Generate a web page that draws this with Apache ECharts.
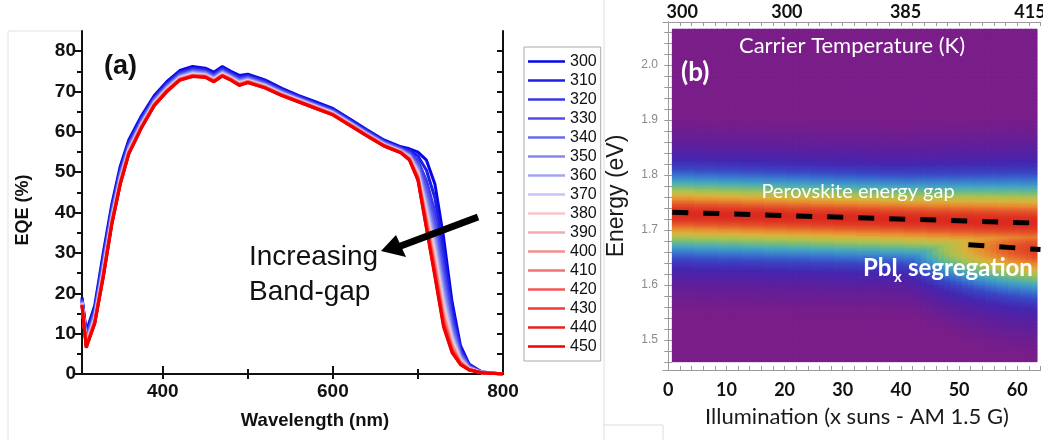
<!DOCTYPE html>
<html>
<head>
<meta charset="utf-8">
<script src="https://cdn.jsdelivr.net/npm/echarts@6/dist/echarts.min.js"></script>
<style>
  html, body { margin: 0; padding: 0; background: #ffffff; }
  #chart { width: 1043px; height: 440px; }
</style>
</head>
<body>
<div id="chart"></div>
<script>
// ---------- (a) EQE spectra at different carrier temperatures ----------
const wavelengths = [305,310,320,330,340,350,360,375,390,405,420,435,450,460,470,480,490,500,520,540,560,580,600,620,640,660,680,690,700,710,720,730,740,750,760,775,800];

const eqe300 = [19,10.5,17,30,42,51.5,58,64,69,72.5,75.2,76.2,75.8,74.8,76.2,75,74,74.3,72.9,70.8,69,67.4,65.8,63.2,60.5,58,56.3,55.8,55,53,47,34,18,7,2.5,0.5,0];
const eqe310 = [18.7,9.9,16.3,29.1,41.3,50.8,57.5,63.6,68.6,72.1,74.8,75.8,75.5,74.4,75.8,74.7,73.6,74.0,72.6,70.5,68.8,67.2,65.6,63.0,60.3,57.8,56.1,55.4,54.0,50.5,43.6,30.7,16.1,6.3,2.3,0.5,0];
const eqe320 = [18.4,9.3,15.7,28.2,40.5,50.2,57.0,63.1,68.3,71.8,74.5,75.5,75.1,74.1,75.5,74.3,73.3,73.7,72.3,70.3,68.5,66.9,65.3,62.7,60.1,57.6,55.9,55.0,52.9,47.9,40.1,27.3,14.2,5.6,2.1,0.4,0];
const eqe330 = [18.2,8.9,15.2,27.6,40,49.7,56.6,62.8,68,71.5,74.2,75.2,74.9,73.8,75.2,74.1,73,73.5,72.1,70.1,68.4,66.8,65.2,62.6,59.9,57.4,55.7,54.7,52.2,46.2,37.8,25.1,12.9,5.1,1.9,0.4,0];
const eqe340 = [18,8.5,14.8,27,39.5,49.3,56.3,62.5,67.8,71.3,74.0,75.0,74.7,73.6,75.0,73.9,72.8,73.3,71.9,69.9,68.2,66.6,65.0,62.4,59.8,57.3,55.6,54.4,51.5,44.5,35.5,22.9,11.7,4.7,1.8,0.4,0];
const eqe350 = [17.8,8.2,14.4,26.5,39.1,48.9,56.0,62.3,67.6,71.1,73.8,74.8,74.5,73.4,74.8,73.7,72.6,73.1,71.7,69.8,68.1,66.5,64.9,62.3,59.6,57.1,55.4,54.2,50.9,43.1,33.7,21.1,10.6,4.3,1.6,0.4,0];
const eqe360 = [17.7,7.9,14.1,26.1,38.8,48.6,55.7,62.1,67.4,70.9,73.6,74.6,74.3,73.2,74.6,73.6,72.4,72.9,71.6,69.6,68.0,66.4,64.8,62.2,59.5,57.0,55.3,54.0,50.5,42.0,32.1,19.5,9.7,3.9,1.5,0.4,0];
const eqe370 = [17.6,7.6,13.8,25.7,38.4,48.3,55.5,61.8,67.2,70.7,73.5,74.4,74.1,73.1,74.5,73.4,72.2,72.8,71.5,69.5,67.9,66.3,64.7,62.1,59.4,56.9,55.2,53.8,50.0,40.8,30.4,17.9,8.9,3.6,1.4,0.4,0];
const eqe380 = [17.4,7.4,13.5,25.3,38.1,48.0,55.3,61.7,67.1,70.6,73.3,74.3,74.0,72.9,74.3,73.3,72.1,72.7,71.3,69.4,67.8,66.2,64.6,62.0,59.3,56.8,55.1,53.6,49.5,39.7,29.1,16.6,8.1,3.3,1.3,0.3,0];
const eqe390 = [17.3,7.2,13.3,25.0,37.9,47.8,55.1,61.5,66.9,70.4,73.2,74.1,73.9,72.8,74.2,73.2,71.9,72.6,71.2,69.3,67.7,66.1,64.5,61.9,59.3,56.8,55.1,53.5,49.2,38.9,27.9,15.5,7.5,3.1,1.3,0.3,0];
const eqe400 = [17.3,7.0,13.1,24.8,37.7,47.6,55.0,61.4,66.8,70.3,73.1,74.0,73.8,72.7,74.1,73.1,71.8,72.5,71.2,69.2,67.6,66.0,64.4,61.8,59.2,56.7,55.0,53.4,48.9,38.2,27.0,14.6,7.0,2.9,1.2,0.3,0];
const eqe410 = [17.2,6.9,13.0,24.6,37.5,47.5,54.9,61.3,66.8,70.3,73.0,74.0,73.7,72.6,74.0,73.0,71.8,72.4,71.1,69.2,67.6,66.0,64.4,61.8,59.2,56.7,55.0,53.3,48.7,37.7,26.3,13.9,6.6,2.8,1.2,0.3,0];
const eqe420 = [17.1,6.8,12.8,24.4,37.4,47.3,54.7,61.2,66.7,70.2,73.0,73.9,73.7,72.6,74.0,73.0,71.7,72.4,71.0,69.1,67.5,65.9,64.3,61.7,59.1,56.6,54.9,53.2,48.5,37.2,25.6,13.3,6.2,2.6,1.1,0.3,0];
const eqe430 = [17.1,6.7,12.7,24.2,37.2,47.2,54.6,61.1,66.6,70.1,72.9,73.8,73.6,72.5,73.9,72.9,71.6,72.3,71.0,69.1,67.5,65.9,64.3,61.7,59.1,56.6,54.9,53.1,48.3,36.7,24.9,12.6,5.8,2.5,1.1,0.3,0];
const eqe440 = [17.0,6.6,12.6,24.1,37.1,47.1,54.6,61.1,66.6,70.1,72.9,73.8,73.6,72.5,73.9,72.8,71.6,72.2,70.9,69.0,67.4,65.8,64.2,61.6,59.0,56.5,54.8,53.1,48.1,36.3,24.5,12.2,5.6,2.4,1.0,0.3,0];
const eqe450 = [17,6.5,12.5,24,37,47,54.5,61,66.5,70,72.8,73.7,73.5,72.4,73.8,72.8,71.5,72.2,70.9,69,67.4,65.8,64.2,61.6,59,56.5,54.8,53,48,36,24,11.7,5.3,2.3,1,0.3,0];

const temperatures = ['300','310','320','330','340','350','360','370','380','390','400','410','420','430','440','450'];
const eqeCurves = [eqe300,eqe310,eqe320,eqe330,eqe340,eqe350,eqe360,eqe370,eqe380,eqe390,eqe400,eqe410,eqe420,eqe430,eqe440,eqe450];
const curveColors = ['#0606e6','#1e1ee8','#3636ea','#4e4eec','#6a6aee','#8686f0','#a4a4f2','#c6c6f6',
                     '#f8c6c6','#f6aaaa','#f48e8e','#f27272','#f05656','#ee3a3a','#ec1e1e','#f00000'];
const eqeLabelTicks = [0,10,20,30,40,50,60,70,80];
const eqeMinorTicks = [5,15,25,35,45,55,65,75];
const eqeAllTicks = [5,10,15,20,25,30,35,40,45,50,55,60,65,70,75,80];
const wavelengthLabels = [400,600,800];
const wavelengthMinor = [500,700];

// ---------- (b) PL map vs illumination (one column per sun) ----------
const illumination = [1,2,3,4,5,6,7,8,9,10,11,12,13,14,15,16,17,18,19,20,21,22,23,24,25,26,27,28,29,30,31,32,
                      33,34,35,36,37,38,39,40,41,42,43,44,45,46,47,48,49,50,51,52,53,54,55,56,57,58,59,60,61,62,63];
const peakEnergy   = [1.729,1.729,1.729,1.729,1.728,1.728,1.728,1.728,1.727,1.727,1.727,1.727,1.726,1.726,1.726,1.726,
                      1.725,1.725,1.725,1.725,1.724,1.724,1.724,1.724,1.723,1.723,1.723,1.723,1.722,1.722,1.722,1.722,
                      1.721,1.721,1.721,1.721,1.720,1.720,1.720,1.720,1.719,1.719,1.719,1.719,1.718,1.718,1.718,1.718,
                      1.717,1.717,1.717,1.717,1.716,1.716,1.716,1.716,1.715,1.715,1.715,1.715,1.714,1.714,1.714];
const peakWidth    = [0.060,0.060,0.060,0.060,0.060,0.060,0.060,0.060,0.060,0.060,0.060,0.060,0.060,0.060,0.060,0.060,
                      0.060,0.060,0.060,0.060,0.060,0.060,0.060,0.060,0.060,0.060,0.060,0.060,0.060,0.060,0.060,0.060,
                      0.060,0.060,0.060,0.060,0.060,0.060,0.060,0.060,0.0603,0.0605,0.0608,0.061,0.0613,0.0615,0.0618,0.062,
                      0.0623,0.0625,0.0628,0.063,0.0633,0.0635,0.0638,0.064,0.0643,0.0645,0.0648,0.065,0.0653,0.0655,0.0658];
const segAmplitude = [0,0,0,0,0,0,0,0,0,0,0,0,0,0,0,0,0,0,0,0,0,0,0,0,0,0,0,0,
                      0.05,0.075,0.1,0.13,0.16,0.19,0.22,0.255,0.29,0.325,0.36,0.395,0.43,0.465,0.5,0.535,0.57,0.605,
                      0.64,0.67,0.7,0.73,0.76,0.785,0.81,0.83,0.85,0.87,0.89,0.905,0.92,0.93,0.94,0.95,0.96];
const segEnergy    = [1.673,1.673,1.673,1.673,1.673,1.673,1.673,1.673,1.673,1.673,1.673,1.673,1.673,1.673,1.673,1.673,
                      1.673,1.673,1.673,1.673,1.673,1.673,1.673,1.673,1.673,1.673,1.673,1.673,1.673,1.673,1.673,1.673,
                      1.673,1.673,1.673,1.673,1.673,1.673,1.673,1.673,1.673,1.673,1.672,1.672,1.672,1.672,1.671,1.671,
                      1.671,1.671,1.670,1.670,1.669,1.669,1.668,1.668,1.667,1.667,1.666,1.666,1.665,1.665,1.664];
const segWidth = 0.068;

const illumTicks = [0,10,20,30,40,50,60];
const energyTicks = [1.5,1.6,1.7,1.8,1.9,2.0];
const carrierTemps = ['300','300','385','415'];
const carrierTempAt = [2.4,20.4,40.8,62.2];
const gapLine = [[0.7,1.732],[64,1.712]];
const segLine = [[51.6,1.673],[64,1.664]];

// sampling extent of the measured map
const E_LO = 1.46, E_HI = 2.065, E_STEP = 0.0025;
const X_LO = 0.7, X_HI = 63.4;

function stepList(a, b, s) {
  const out = [];
  for (let v = a; v <= b + 1e-9; v += s) out.push(Math.round(v * 1000) / 1000);
  return out;
}
const illumMinor = stepList(0, 64, 2);
const energyMinor = stepList(1.46, 2.06, 0.02);

// Emission map: Lorentzian perovskite line plus the PbIx-rich line at high illumination
const heat = [];
const nRows = Math.round((E_HI - E_LO) / E_STEP);
for (let c = 0; c < illumination.length; c++) {
  for (let k = 0; k < nRows; k++) {
    const e = E_LO + (k + 0.5) * E_STEP;
    const d1 = (e - peakEnergy[c]) / peakWidth[c];
    const d2 = (e - segEnergy[c]) / segWidth;
    const v = Math.max(1 / (1 + d1 * d1), segAmplitude[c] / (1 + d2 * d2));
    heat.push([illumination[c], e, v, c]);
  }
}

function renderCell(params, api) {
  const c = api.value(3);
  const e = api.value(1);
  const n = illumination.length;
  const x0 = c === 0 ? X_LO : (illumination[c - 1] + illumination[c]) / 2;
  const x1 = c === n - 1 ? X_HI : (illumination[c] + illumination[c + 1]) / 2;
  const p0 = api.coord([x0, Math.min(E_HI, e + E_STEP / 2)]);
  const p1 = api.coord([x1, Math.max(E_LO, e - E_STEP / 2)]);
  return {
    type: 'rect',
    shape: { x: p0[0] - 0.4, y: p0[1] - 0.4, width: p1[0] - p0[0] + 0.8, height: p1[1] - p0[1] + 0.8 },
    style: { fill: api.visual('color') }
  };
}

const ARIAL = 'Liberation Sans';
const SANS = 'Lato';
const frameA = { show: true, lineStyle: { color: '#111', width: 2 } };
const frameB = { show: true, lineStyle: { color: '#9a9a9a', width: 1 } };

const chart = echarts.init(document.getElementById('chart'), null, { renderer: 'canvas' });

const lineSeries = eqeCurves.map((arr, i) => ({
  name: temperatures[i],
  type: 'line',
  xAxisIndex: 0, yAxisIndex: 0,
  data: wavelengths.map((w, j) => [w, arr[j]]),
  showSymbol: false, symbol: 'none',
  smooth: false,
  lineStyle: { width: 3, color: curveColors[i] },
  itemStyle: { color: curveColors[i] },
  z: 3
}));

const option = {
  animation: false,
  backgroundColor: '#ffffff',
  grid: [
    { left: 82, top: 31, width: 421, height: 343, outerBoundsMode: 'none', containLabel: false },
    { left: 663, top: 22, width: 377.5, height: 348, outerBoundsMode: 'none', containLabel: false }
  ],
  xAxis: [
    { gridIndex: 0, type: 'value', position: 'bottom', min: 305, max: 800,
      axisLine: frameA, splitLine: { show: false },
      axisTick: { show: true, inside: true, length: 8, customValues: wavelengthLabels, lineStyle: { color: '#111', width: 2 } },
      axisLabel: { customValues: wavelengthLabels, margin: 8, color: '#111', fontFamily: ARIAL, fontWeight: 'bold', fontSize: 19 } },
    { gridIndex: 0, type: 'value', position: 'bottom', min: 305, max: 800,
      axisLine: { show: false }, splitLine: { show: false }, axisLabel: { show: false },
      axisTick: { show: true, inside: true, length: 5, customValues: wavelengthMinor, lineStyle: { color: '#111', width: 2 } } },
    { gridIndex: 0, type: 'value', position: 'top', min: 305, max: 800,
      axisLine: frameA, splitLine: { show: false }, axisLabel: { show: false },
      axisTick: { show: true, inside: true, length: 5, customValues: [400,500,600,700], lineStyle: { color: '#111', width: 2 } } },
    { gridIndex: 1, type: 'value', position: 'bottom', min: -0.9, max: 64,
      axisLine: frameB, splitLine: { show: false },
      axisTick: { show: true, inside: true, length: 4, customValues: illumMinor, lineStyle: { color: '#9a9a9a' } },
      axisLabel: { customValues: illumTicks, margin: 11, color: '#111', fontFamily: SANS, fontWeight: 'bold', fontSize: 18 } },
    { gridIndex: 1, type: 'value', position: 'top', min: -0.9, max: 64,
      axisLine: frameB, splitLine: { show: false },
      axisTick: { show: true, inside: true, length: 4, customValues: illumMinor, lineStyle: { color: '#9a9a9a' } },
      axisLabel: { customValues: carrierTempAt, margin: 1, color: '#111', fontFamily: SANS, fontWeight: 'bold', fontSize: 18,
                   formatter: (v) => { const i = carrierTempAt.findIndex(t => Math.abs(t - v) < 1e-6); return i >= 0 ? carrierTemps[i] : ''; } } }
  ],
  yAxis: [
    { gridIndex: 0, type: 'value', position: 'left', min: 0, max: 85,
      axisLine: frameA, splitLine: { show: false },
      axisTick: { show: true, inside: false, length: 8, customValues: eqeLabelTicks, lineStyle: { color: '#111', width: 2 } },
      axisLabel: { customValues: eqeLabelTicks, margin: 6, color: '#111', fontFamily: ARIAL, fontWeight: 'bold', fontSize: 19 } },
    { gridIndex: 0, type: 'value', position: 'left', min: 0, max: 85,
      axisLine: { show: false }, splitLine: { show: false }, axisLabel: { show: false },
      axisTick: { show: true, inside: false, length: 5, customValues: eqeMinorTicks, lineStyle: { color: '#111', width: 2 } } },
    { gridIndex: 0, type: 'value', position: 'right', min: 0, max: 85,
      axisLine: frameA, splitLine: { show: false }, axisLabel: { show: false },
      axisTick: { show: true, inside: true, length: 6, customValues: eqeAllTicks, lineStyle: { color: '#111', width: 2 } } },
    { gridIndex: 1, type: 'value', position: 'left', min: 1.445, max: 2.078,
      axisLine: frameB, splitLine: { show: false },
      axisTick: { show: true, inside: true, length: 4, customValues: energyMinor, lineStyle: { color: '#9a9a9a' } },
      axisLabel: { customValues: energyTicks, margin: 5, color: '#8a8a8a', fontFamily: ARIAL, fontSize: 12,
                   formatter: (v) => v.toFixed(1) } },
    { gridIndex: 1, type: 'value', position: 'right', min: 1.445, max: 2.078,
      axisLine: frameB, splitLine: { show: false }, axisLabel: { show: false },
      axisTick: { show: true, inside: true, length: 4, customValues: energyMinor, lineStyle: { color: '#9a9a9a' } } }
  ],
  legend: {
    data: temperatures,
    orient: 'vertical',
    left: 524, top: 47,
    icon: 'rect', itemWidth: 37, itemHeight: 2.5, itemGap: 2,
    padding: [6, 4, 6, 4],
    borderColor: '#aaaaaa', borderWidth: 1, backgroundColor: '#ffffff',
    textStyle: { fontFamily: ARIAL, fontSize: 16, lineHeight: 17, color: '#111' }
  },
  visualMap: {
    type: 'continuous', show: false, seriesIndex: 16, dimension: 2,
    min: 0.1, max: 1,
    inRange: { color: ['#7a1e89','#5e1f9c','#4526b0','#3a46c4','#3a7acf','#45a6c0','#72bb80','#aec150','#d9b23c','#e88a30','#e4562a','#dc2a20'] }
  },
  series: lineSeries.concat([
    { type: 'custom', name: 'PL map', xAxisIndex: 3, yAxisIndex: 3,
      data: heat, encode: { x: 0, y: 1 }, renderItem: renderCell, clip: true, z: 1, silent: true },
    { type: 'line', name: 'gap', xAxisIndex: 3, yAxisIndex: 3, data: gapLine,
      symbol: 'none', lineStyle: { color: '#000', width: 5, type: [16, 15] }, z: 5, silent: true },
    { type: 'line', name: 'seg', xAxisIndex: 3, yAxisIndex: 3, data: segLine,
      symbol: 'none', lineStyle: { color: '#000', width: 5, type: [16, 15] }, z: 5, silent: true }
  ]),
  graphic: [
    // thin panel outlines
    { type: 'line', shape: { x1: 8, y1: 31, x2: 8, y2: 440 }, style: { stroke: '#e2e2e2', lineWidth: 1 }, silent: true },
    { type: 'line', shape: { x1: 8, y1: 31, x2: 82, y2: 31 }, style: { stroke: '#e2e2e2', lineWidth: 1 }, silent: true },
    { type: 'line', shape: { x1: 604, y1: 0, x2: 604, y2: 440 }, style: { stroke: '#dddddd', lineWidth: 1 }, silent: true },
    { type: 'line', shape: { x1: 604, y1: 425, x2: 663, y2: 425 }, style: { stroke: '#dddddd', lineWidth: 1 }, silent: true },
    { type: 'line', shape: { x1: 663, y1: 425, x2: 663, y2: 440 }, style: { stroke: '#dddddd', lineWidth: 1 }, silent: true },

    // panel (a) texts
    { type: 'text', x: 23, y: 210, rotation: Math.PI / 2,
      style: { text: 'EQE (%)', align: 'center', verticalAlign: 'middle', font: 'bold 18px "Liberation Sans"', fill: '#111' } },
    { type: 'text', x: 315, y: 421,
      style: { text: 'Wavelength (nm)', align: 'center', verticalAlign: 'middle', font: 'bold 18.5px "Liberation Sans"', fill: '#111' } },
    { type: 'text', x: 104, y: 67,
      style: { text: '(a)', align: 'left', verticalAlign: 'middle', font: 'bold 27px "Liberation Sans"', fill: '#111' } },
    { type: 'text', x: 249, y: 257,
      style: { text: 'Increasing', align: 'left', verticalAlign: 'middle', font: '28px "Liberation Sans"', fill: '#111' } },
    { type: 'text', x: 249, y: 292,
      style: { text: 'Band-gap', align: 'left', verticalAlign: 'middle', font: '28px "Liberation Sans"', fill: '#111' } },
    { type: 'line', shape: { x1: 478, y1: 217, x2: 398, y2: 247 }, style: { stroke: '#000', lineWidth: 7 }, z: 10 },
    { type: 'polygon', shape: { points: [[381, 251], [396, 235], [406, 257]] }, style: { fill: '#000' }, z: 10 },

    // panel (b) texts
    { type: 'text', x: 617, y: 196, rotation: Math.PI / 2,
      style: { text: 'Energy (eV)', align: 'center', verticalAlign: 'middle', font: '23px "Liberation Sans"', fill: '#1a1a1a' } },
    { type: 'text', x: 857, y: 417,
      style: { text: 'Illumination (x suns - AM 1.5 G)', align: 'center', verticalAlign: 'middle', font: '22px Lato', fill: '#1a1a1a' } },
    { type: 'text', x: 852, y: 46, z: 20,
      style: { text: 'Carrier Temperature (K)', align: 'center', verticalAlign: 'middle', font: '22px Lato', fill: '#ffffff' } },
    { type: 'text', x: 681, y: 73, z: 20,
      style: { text: '(b)', align: 'left', verticalAlign: 'middle', font: 'bold 26px Lato', fill: '#ffffff' } },
    { type: 'text', x: 858, y: 192, z: 20,
      style: { text: 'Perovskite energy gap', align: 'center', verticalAlign: 'middle', font: '20px Lato', fill: '#ffffff' } },
    { type: 'text', x: 863, y: 268, z: 20,
      style: { text: 'PbI', align: 'left', verticalAlign: 'middle', font: 'bold 24px Lato', fill: '#ffffff' } },
    { type: 'text', x: 894, y: 277, z: 20,
      style: { text: 'x', align: 'left', verticalAlign: 'middle', font: 'bold 15px Lato', fill: '#ffffff' } },
    { type: 'text', x: 908, y: 268, z: 20,
      style: { text: 'segregation', align: 'left', verticalAlign: 'middle', font: 'bold 24px Lato', fill: '#ffffff' } }
  ]
};

chart.setOption(option);
</script>
</body>
</html>
